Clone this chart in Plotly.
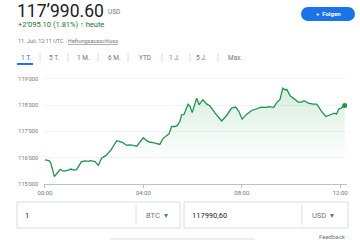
import plotly.graph_objects as go

# ---------------- data ----------------
times = ["00:00","00:10","00:14","00:19","00:23","00:28","00:37","00:43","00:50","00:57",
         "01:03","01:11","01:17","01:29","01:38","01:46","01:51","02:02","02:10","02:18",
         "02:29","02:41","02:55","03:03","03:11","03:18","03:27","03:35","03:44","03:52",
         "04:00","04:08","04:16","04:24","04:32","04:40","04:48","04:57","05:02","05:09",
         "05:17","05:23","05:29","05:33","05:39","05:49","05:54","05:59","06:10","06:16",
         "06:25","06:34","06:42","06:55","07:11","07:23","07:35","07:45","07:53","08:01",
         "08:12","08:24","08:36","08:48","08:59","09:07","09:18","09:25","09:33","09:40",
         "09:45","09:50","09:58","10:10","10:18","10:26","10:32","10:42","10:54","11:03",
         "11:09","11:15","11:25","11:35","11:46","11:51","11:56","12:02","12:07","12:11"]
prices = [115920,115890,115810,115470,115280,115380,115560,115500,115500,115530,
          115570,115530,115550,115850,115880,115860,115890,115850,115710,115980,
          116090,116300,116650,116610,116570,116480,116490,116470,116440,116610,
          116760,116650,116590,116580,116540,116510,116740,116830,116900,117190,
          117190,117230,117380,117630,117650,118040,117950,117720,118270,118020,
          118210,118050,117980,117700,117400,117610,117890,117930,117760,117470,
          117660,117800,117870,117930,117920,117950,117920,118100,118210,118650,
          118590,118600,118360,118210,118120,118120,118170,118080,118040,118040,
          117890,117760,117570,117630,117700,117660,117850,117890,117950,117990.60]

date = "2025-07-11"
y_tickvals = [115000, 116000, 117000, 118000, 119000]
y_ticktext = ["115’000", "116’000", "117’000", "118’000", "119’000"]
x_tickvals = ["00:00", "04:00", "08:00", "12:00"]

price_text = "117’990.60"
currency = "USD"
change_text = "+2’095.10 (1.81%) ↑ heute"
date_text = "11. Juli, 12:11 UTC · "
disclaimer = "Haftungsausschluss"
tabs = ["1 T.", "5 T.", "1 M.", "6 M.", "YTD", "1 J.", "5 J.", "Max."]
follow_text = "+  Folgen"
amount_from, cur_from = "1", "BTC"
amount_to, cur_to = "117990,60", "USD"
feedback = "Feedback"

# ---------------- layout helpers ----------------
W, H = 360, 240
L, R, T, B = 44, 347, 76, 184

def px(X):
    return (X - L) / (R - L)

def py(Y):
    return (B - Y) / (B - T)

FONT = "Roboto, Arial, sans-serif"
GREEN = "#1e9450"
GREY = "#70757a"
DARK = "#202124"
BLUE = "#1a73e8"

xs = [f"{date} {t}" for t in times]

fig = go.Figure()
fig.add_trace(go.Scatter(
    x=xs, y=prices, mode="lines",
    line=dict(color=GREEN, width=1.3),
    fill="tozeroy",
    fillgradient=dict(type="vertical", start=115900, stop=118700,
                      colorscale=[[0, "rgba(52,168,83,0)"], [1, "rgba(52,168,83,0.2)"]]),
    hoverinfo="skip", showlegend=False,
))
fig.add_trace(go.Scatter(
    x=[xs[-1]], y=[prices[-1]], mode="markers",
    marker=dict(color=GREEN, size=5), showlegend=False, hoverinfo="skip",
))

fig.update_layout(
    width=W, height=H,
    margin=dict(l=L, r=W - R, t=T, b=H - B, pad=0),
    paper_bgcolor="white", plot_bgcolor="white",
    font=dict(family=FONT, color=GREY, size=6),
    xaxis=dict(
        type="date",
        range=[f"2025-07-10 23:57:36", f"{date} 12:16:36"],
        tickvals=[f"{date} {t}" for t in x_tickvals],
        ticktext=x_tickvals,
        showgrid=False, zeroline=False,
        showline=True, linecolor="#bdc1c6", linewidth=1,
        ticks="outside", ticklen=3, tickcolor="#bdc1c6",
        tickfont=dict(size=6, color=GREY, family=FONT),
        fixedrange=True,
    ),
    yaxis=dict(
        range=[115000, 119114],
        tickvals=y_tickvals, ticktext=y_ticktext,
        showgrid=True, gridcolor="#f1f3f4", gridwidth=1,
        zeroline=False, showline=False, ticks="",
        ticklabelstandoff=5,
        tickfont=dict(size=5.5, color=GREY, family=FONT),
        fixedrange=True,
    ),
)

ann = []
def text(X, Y, s, size, color, anchor="left", **kw):
    ann.append(dict(x=px(X), y=py(Y), xref="paper", yref="paper", text=s, showarrow=False,
                    xanchor=anchor, yanchor="middle",
                    font=dict(size=size, color=color, family=FONT), **kw))

text(15, 10.5, price_text, 17.5, DARK)
text(106, 12.5, currency, 6.5, GREY)
text(16, 24.5, change_text, 7.5, "#137333")
text(16, 41, date_text + f"<u>{disclaimer}</u>", 5.5, GREY)

tab_x = [26, 54, 83, 114, 145, 174, 201, 235]
for i, (tx, lab) in enumerate(zip(tab_x, tabs)):
    text(tx, 57.5, lab, 6.5, BLUE if i == 0 else GREY, anchor="center")

text(328, 14, f"<b>{follow_text}</b>", 6, "white", anchor="center")

text(23, 215, amount_from, 7.5, DARK)
text(157, 215, cur_from + "  ▾", 7.5, GREY, anchor="center")
text(190, 215, amount_to, 7.5, DARK)
text(323, 215, cur_to + "  ▾", 7.5, GREY, anchor="center")
text(348, 236, feedback, 6, GREY, anchor="right")

shapes = []
def rect(x0, y0, x1, y1, **kw):
    shapes.append(dict(type="rect", xref="paper", yref="paper",
                       x0=px(x0), x1=px(x1), y0=py(y1), y1=py(y0), **kw))
def line(x0, y0, x1, y1, color, width=1):
    shapes.append(dict(type="line", xref="paper", yref="paper",
                       x0=px(x0), x1=px(x1), y0=py(y0), y1=py(y1),
                       line=dict(color=color, width=width)))

# active tab underline
line(17, 64, 33, 64, BLUE, 2)
for sx in [40, 68, 98, 128, 162, 190, 218]:
    line(sx, 53, sx, 62, "#dadce0", 1)

# follow button (pill)
shapes.append(dict(type="circle", xref="paper", yref="paper",
                   x0=px(301), x1=px(315), y0=py(21), y1=py(7),
                   fillcolor=BLUE, line=dict(width=0)))
shapes.append(dict(type="circle", xref="paper", yref="paper",
                   x0=px(341), x1=px(355), y0=py(21), y1=py(7),
                   fillcolor=BLUE, line=dict(width=0)))
rect(308, 7, 348, 21, fillcolor=BLUE, line=dict(width=0))

# converter boxes
rect(17, 202, 180, 228, fillcolor="rgba(0,0,0,0)", line=dict(color="#dadce0", width=1))
rect(184, 202, 348, 228, fillcolor="rgba(0,0,0,0)", line=dict(color="#dadce0", width=1))
line(136, 205, 136, 225, "#dadce0")
line(302, 205, 302, 225, "#dadce0")
rect(110, 238, 255, 245, fillcolor="#e8f0ee", line=dict(width=0))

fig.update_layout(annotations=ann, shapes=shapes)
fig.write_html("out.html")
